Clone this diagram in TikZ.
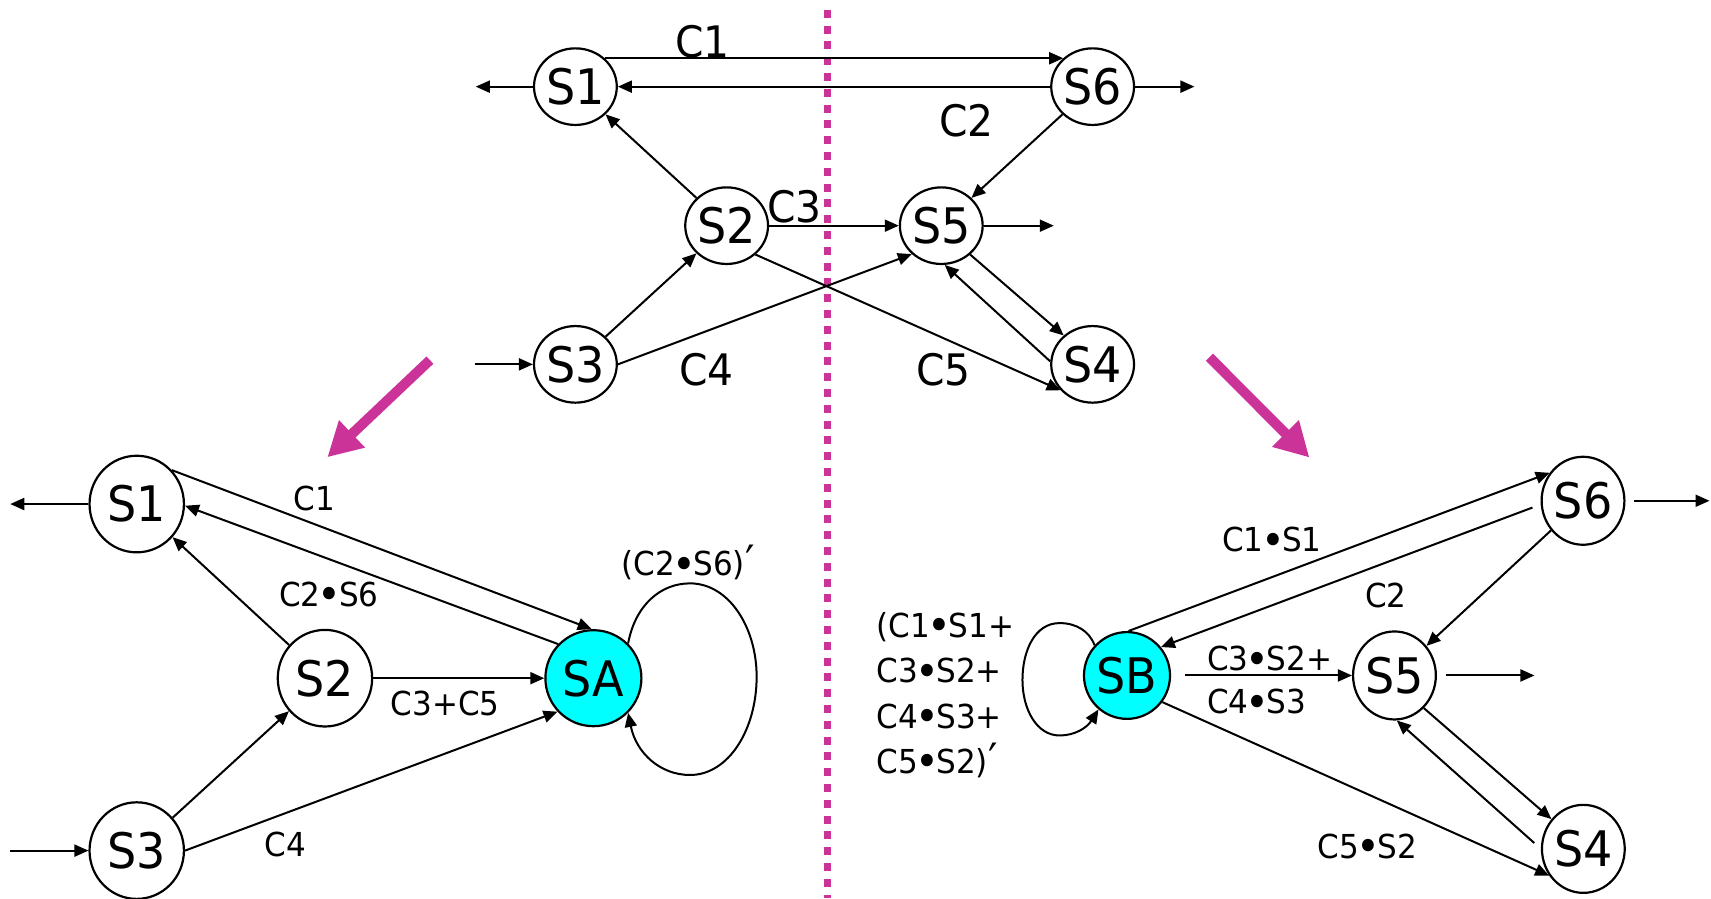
\documentclass[tikz,border=0pt]{standalone}
\usepackage{fontspec}
\setmainfont{DejaVu Sans}[FakeStretch=0.94]
\usetikzlibrary{arrows.meta,shapes.geometric}

\definecolor{divider}{RGB}{204,51,153}
\definecolor{merged}{RGB}{0,255,255}

% product dot and complement mark used in the transition labels
\newcommand{\bt}{\kern-0.08em\raisebox{-0.11em}{\scalebox{1.3}{•}}\kern-0.08em}
\newcommand{\cmpl}{\raisebox{-0.05em}{\scalebox{1.35}{′}}}

\begin{document}
\begin{tikzpicture}[x=0.5456pt,y=-0.5456pt,
  edge/.style={line width=1pt,-{Triangle[length=7pt,width=6pt]}},
  st/.style={draw,ellipse,line width=1.1pt,inner sep=0pt,font=\fontsize{24.5}{29}\selectfont},
  topst/.style={st,minimum width=38.3pt,minimum height=38.3pt},
  leftst/.style={st,minimum width=47.2pt,minimum height=48.3pt},
  rightst/.style={st,minimum width=39.5pt,minimum height=44pt},
  toplbl/.style={anchor=base,inner sep=0pt,font=\fontsize{21.7}{26}\selectfont},
  lbl/.style={anchor=base,inner sep=0pt,font=\fontsize{16.5}{20}\selectfont},
  looplbl/.style={anchor=base west,inner sep=0pt,font=\fontsize{16.5}{20}\selectfont},
  bigarrow/.style={draw=divider,line width=5pt,-{Triangle[length=17pt,width=17.7pt]}},
]
\useasboundingbox (0,0) rectangle (1568,823);

% dividing line
\coordinate (divTop) at (758,9);
\coordinate (divBot) at (758,823);
\draw[divider,line width=3.5pt,dash pattern=on 4pt off 3.9pt] (divTop) -- (divBot);

% ---------------- original machine ----------------
\node[topst] (tS1) at (527.3,79.4) {S1};
\node[topst] (tS6) at (1001.3,79.4) {S6};
\node[topst] (tS2) at (665.9,206.8) {S2};
\node[topst] (tS5) at (862.6,206.8) {S5};
\node[topst] (tS3) at (527.3,333.9) {S3};
\node[topst] (tS4) at (1001.3,333.9) {S4};

\coordinate (tOut1) at (436,79.4);
\coordinate (tOut6) at (1094.6,79.4);
\coordinate (tOut5) at (965.7,206.8);
\coordinate (tIn3) at (434.9,333.9);

\draw[edge] (tS1.44) -- (tS6.136);
\draw[edge] (tS6) -- (tS1);
\draw[edge] (tS1.west) -- (tOut1);
\draw[edge] (tS6.east) -- (tOut6);
\draw[edge] (tS2) -- (tS1);
\draw[edge] (tS6) -- (tS5);
\draw[edge] (tS2) -- (tS5);
\draw[edge] (tS5.east) -- (tOut5);
\draw[edge] (tS3) -- (tS2);
\draw[edge] (tIn3) -- (tS3.west);
\draw[edge] (tS3.east) -- (tS5.-136);
\draw[edge] (tS2.-45) -- (tS4.-141);
\draw[edge] (tS5.-45) -- (tS4.135);
\draw[edge] (tS4.176) -- (tS5.-85);

\node[toplbl] (tC1) at (643.7,52.7) {C1};
\node[toplbl] (tC2) at (885.7,125.2) {C2};
\node[toplbl] (tC3) at (728,203.7) {C3};
\node[toplbl] (tC4) at (647.2,353.6) {C4};
\node[toplbl] (tC5) at (864.5,353.6) {C5};

% transformation arrows
\coordinate (mgL0) at (394,330);
\coordinate (mgL1) at (300,419);
\coordinate (mgR0) at (1108.3,327.3);
\coordinate (mgR1) at (1200,419.3);
\draw[bigarrow] (mgL0) -- (mgL1);
\draw[bigarrow] (mgR0) -- (mgR1);

% ---------------- S4, S5, S6 merged into SA ----------------
\node[leftst] (lS1) at (125.3,461.9) {S1};
\node[leftst] (lS2) at (297.8,621.5) {S2};
\node[leftst] (lS3) at (125.3,779.5) {S3};
\node[leftst,fill=merged,minimum width=48pt,minimum height=48pt] (lSA) at (543.8,621.5) {SA};

\coordinate (lOut1) at (9.4,461.9);
\coordinate (lIn3) at (9.4,779.5);

\draw[edge] (lS1.west) -- (lOut1);
\draw[edge] (lIn3) -- (lS3.west);
\draw[edge] (lS1.44) -- (lSA.92);
\draw[edge] (lSA.136) -- (lS1.-2);
\draw[edge] (lS2) -- (lS1);
\draw[edge] (lS2) -- (lSA);
\draw[edge] (lS3) -- (lS2);
\draw[edge] (lS3.east) -- (lSA.-137);
\draw[edge] (lSA.45) .. controls (582,555) and (605,534.6) .. (632.3,534.6)
  .. controls (668,534.6) and (693.4,575) .. (693.4,620.1)
  .. controls (693.4,668) and (668,710.2) .. (632.3,710.2)
  .. controls (605,710.2) and (583,690) .. (lSA.-45);

\node[lbl] (lC1) at (288,468.2) {C1};
\node[lbl] (lC2S6) at (301.3,555.4) {C2\bt S6};
\node[lbl] (lC3C5) at (408,655.4) {C3+C5};
\node[lbl] (lC4) at (261.8,784.9) {C4};
\node[lbl] (lLoop) at (630.5,527.6) {(C2\bt S6)\cmpl};

% ---------------- S1, S2, S3 merged into SB ----------------
\node[rightst] (rS6) at (1450.7,458.9) {S6};
\node[rightst] (rS5) at (1277.9,619) {S5};
\node[rightst] (rS4) at (1451,777.9) {S4};
\node[rightst,fill=merged,minimum width=41pt,minimum height=43.4pt] (rSB) at (1032.8,619) {SB};

\coordinate (rOut6) at (1566.6,458.9);
\coordinate (rOut5) at (1406.2,619);

\draw[edge,shorten <=4.4pt] (rS6.east) -- (rOut6);
\draw[edge,shorten <=4.4pt] (rS5.east) -- (rOut5);
\draw[edge] (rSB.88) -- (rS6.140);
\draw[edge,shorten <=4.4pt] (rS6.185) -- (rSB.40);
\draw[edge,shorten <=7pt] (rSB.east) -- (rS5.west);
\draw[edge] (rS6) -- (rS5);
\draw[edge] (rS5.-48) -- (rS4.137);
\draw[edge,shorten <=4.4pt] (rS4.180) -- (rS5.-87);
\draw[edge] (rSB.-37) -- (rS4.-142);
\draw[edge] (rSB.137) .. controls (998,578) and (986,571) .. (971,571)
  .. controls (948,571) and (937,597) .. (937,623)
  .. controls (937,650) and (950,674) .. (971,674)
  .. controls (985,674) and (996,667) .. (rSB.-130);

\node[lbl] (rC1S1) at (1165.6,505.3) {C1\bt S1};
\node[lbl] (rC2) at (1270,556.8) {C2};
\node[lbl,anchor=base west] (rC3S2) at (1105.8,614.9) {C3\bt S2+};
\node[lbl,anchor=base west] (rC4S3) at (1105.8,653.8) {C4\bt S3};
\node[lbl] (rC5S2) at (1253,786.6) {C5\bt S2};

\node[looplbl] (rLoopA) at (803,584) {(C1\bt S1+};
\node[looplbl] (rLoopB) at (803,625.6) {C3\bt S2+};
\node[looplbl] (rLoopC) at (803,667.4) {C4\bt S3+};
\node[looplbl] (rLoopD) at (803,708.7) {C5\bt S2)\cmpl};
\end{tikzpicture}
\end{document}
